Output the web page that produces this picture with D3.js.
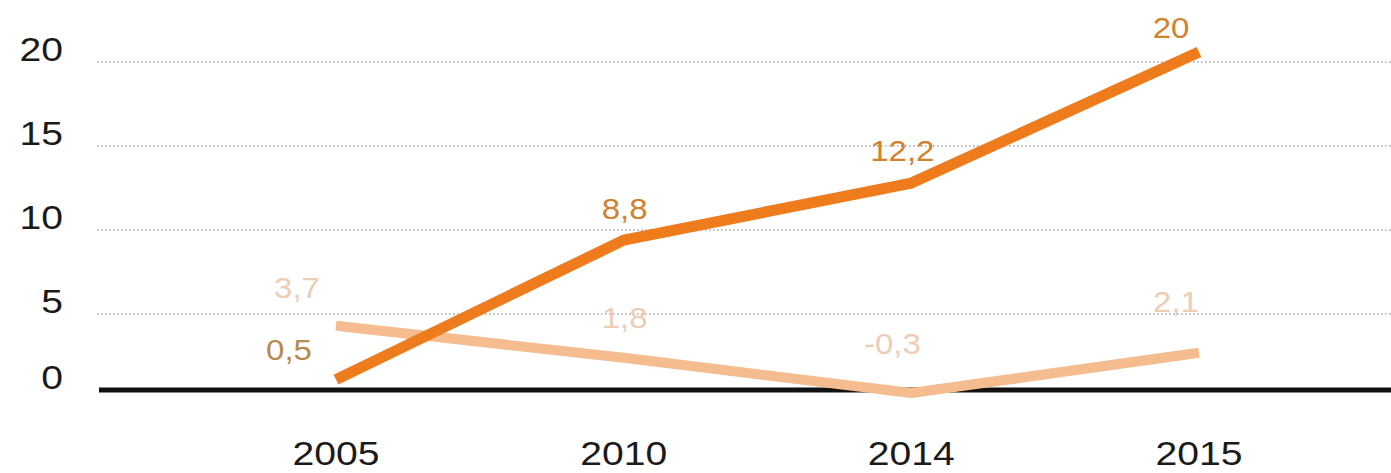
<!DOCTYPE html>
<html>
<head>
<meta charset="utf-8">
<script src="https://cdn.jsdelivr.net/npm/d3@7"></script>
<style>
  html, body { margin: 0; padding: 0; background: #fff; }
  svg { display: block; }
  text { font-family: "Liberation Sans", Arial, sans-serif; }
</style>
</head>
<body>
<svg id="chart" width="1391" height="473"></svg>
<script>
// Categories (years) and the two series
const years = ["2005", "2010", "2014", "2015"];
const strongSeries = [0.5, 8.8, 12.2, 20];
const softSeries = [3.7, 1.8, -0.3, 2.1];
const strongLabels = ["0,5", "8,8", "12,2", "20"];
const softLabels = ["3,7", "1,8", "-0,3", "2,1"];
const yTicks = [0, 5, 10, 15, 20];

// Label placement relative to each point (layout only)
const strongNudge = [[-47, -30], [1, -32], [-9, -33], [-28, -24]];
const softNudge = [[-39, -38], [1, -40], [-19, -50], [-23, -51]];

const W = 1391, H = 473;
const svg = d3.select("#chart");

const x = d3.scalePoint().domain(years).range([336, 1199]);
const y = d3.scaleLinear().domain([0, 20]).range([388, 52]);

const gridLeft = 97, gridRight = W;
const gridShift = 10;   // dotted guides sit slightly under their tick values

// dotted horizontal guides
svg.append("g").selectAll("line")
  .data(yTicks.filter(d => d > 0))
  .join("line")
  .attr("x1", gridLeft).attr("x2", gridRight)
  .attr("y1", d => y(d) + gridShift).attr("y2", d => y(d) + gridShift)
  .attr("stroke", "#7f7f7f")
  .attr("stroke-width", 1.2)
  .attr("stroke-dasharray", "1.6,2.4");

// y tick labels
svg.append("g").selectAll("text")
  .data(yTicks)
  .join("text")
  .attr("transform", d => `translate(63,${y(d) - 3 - (d === 0 ? 8 : 0)}) scale(1.15,1)`)
  .attr("text-anchor", "end")
  .attr("dominant-baseline", "central")
  .attr("font-size", 34)
  .attr("fill", "#1a1a1a")
  .text(d => d);

// zero baseline
svg.append("line")
  .attr("x1", 99).attr("x2", W)
  .attr("y1", y(0) + 2).attr("y2", y(0) + 2)
  .attr("stroke", "#111")
  .attr("stroke-width", 5);

// x labels
svg.append("g").selectAll("text")
  .data(years)
  .join("text")
  .attr("transform", d => `translate(${x(d)},453) scale(1.15,1)`)
  .attr("text-anchor", "middle")
  .attr("dominant-baseline", "central")
  .attr("font-size", 34)
  .attr("fill", "#1a1a1a")
  .text(d => d);

const line = d3.line()
  .x((d, i) => x(years[i]))
  .y(d => y(d));

// soft series line
svg.append("path")
  .datum(softSeries)
  .attr("d", line)
  .attr("fill", "none")
  .attr("stroke", "#F5BC8F")
  .attr("stroke-width", 10)
  .attr("stroke-linejoin", "round");

// strong series line
svg.append("path")
  .datum(strongSeries)
  .attr("d", line)
  .attr("fill", "none")
  .attr("stroke", "#EE7B1C")
  .attr("stroke-width", 11)
  .attr("stroke-linejoin", "round");

// value labels
svg.append("g").selectAll("text")
  .data(softSeries)
  .join("text")
  .attr("transform", (d, i) => `translate(${x(years[i]) + softNudge[i][0]},${y(d) + softNudge[i][1]}) scale(1.1,1)`)
  .attr("text-anchor", "middle")
  .attr("dominant-baseline", "central")
  .attr("font-size", 30)
  .attr("fill", "#ECCDB6")
  .text((d, i) => softLabels[i]);

svg.append("g").selectAll("text")
  .data(strongSeries)
  .join("text")
  .attr("transform", (d, i) => `translate(${x(years[i]) + strongNudge[i][0]},${y(d) + strongNudge[i][1]}) scale(1.1,1)`)
  .attr("text-anchor", "middle")
  .attr("dominant-baseline", "central")
  .attr("font-size", 30)
  .attr("fill", (d, i) => i === 0 ? "#B98A4C" : "#D0822E")
  .text((d, i) => strongLabels[i]);
</script>
</body>
</html>
